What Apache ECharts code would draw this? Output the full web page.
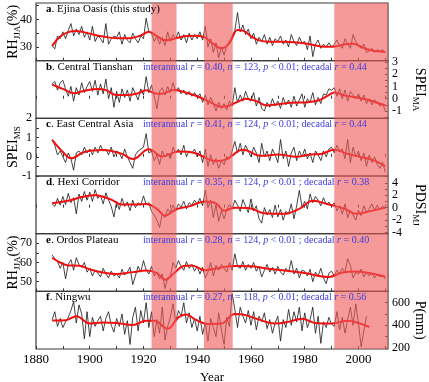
<!DOCTYPE html>
<html><head><meta charset="utf-8">
<script src="https://cdn.jsdelivr.net/npm/echarts@6/dist/echarts.min.js"></script>
<style>html,body{margin:0;padding:0;background:#fff}#c{width:429px;height:382px}</style>
</head><body><div id="c"></div>
<script>
const startYear = 1886;
// a. Ejina Oasis RH_JJA (%)
const blackA = [30.5,29.3,34,33,
35.5,33,36,38.5,34,36.5,34.5,37.5,33.5,35.5,
32.5,37.5,32,34,33,31.5,38.5,31,33,34,
33.5,35.5,31,34.5,32.5,31.5,35,33,31.5,34,
33,40.5,35.5,35,32,34,31,33.5,30.5,35.5,
32,34.5,33,35.5,32.5,34.5,31.5,35,32.5,34.5,
33,35.5,32.5,37.5,30,33,28,31.5,26,30,
27,30.5,32,34,36,42.5,35.5,38,34.5,36.5,
33,35,31,33.5,32,34.5,31,33.5,30.5,33,
32,34,31,32.5,30,34.5,32,30.5,33.5,31.5,
32,29,34,26.5,31,32.5,29.5,31,30,31.5,
30,31,32.5,30.5,29.5,33,31,29.5,34.5,32,
30.5,29.5,31,28,28.5,29.5,28,29,28.5,29,28];
const redA = [[1886,30.4],[1889,33.8],[1892,35.4],[1895,35.8],[1898,35.3],[1901,34.6],[1905,33.8],[1910,33.2],[1915,33.2],[1919,34.2],[1922,35.5],[1925,33.9],[1928,32.4],[1932,33.2],[1936,34.0],[1940,34.1],[1943,33.4],[1946,31.1],[1949,29.5],[1952,31.4],[1955,36.2],[1957,36.0],[1960,33.9],[1963,32.4],[1967,31.9],[1972,31.9],[1977,31.6],[1982,31.0],[1986,30.2],[1990,30.1],[1995,31.0],[1998,31.2],[2002,29.6],[2006,28.5],[2010,28.2]];
// b. Central Tianshan SPEI_MA
const blackB = [1.2,1.4,0.7,1.3,
1.5,0.8,0.2,1.0,-0.2,0.9,0.3,1.3,0.5,1.0,
1.4,0.6,1.5,0.3,1.2,0.4,1.6,0.0,0.9,-0.7,
0.6,-0.3,0.8,0.1,0.7,-0.2,0.9,0.4,-0.1,0.8,
0.3,1.8,0.5,1.1,0.2,-0.8,0.6,0.9,0.3,1.0,
0.5,1.3,0.6,0.9,0.4,0.7,0.3,0.6,0.2,0.5,
0.1,0.4,-0.3,0.3,-0.5,0.1,-0.4,-1.0,-0.3,-0.8,
-0.4,-0.9,-0.2,-0.6,0.9,-0.3,0.3,-0.2,0.6,0.0,
-0.2,0.5,-0.6,0.1,-0.8,-1.0,-0.3,-0.7,0.0,-0.6,
-0.2,-0.8,0.1,-0.5,-0.1,-0.7,0.2,-0.6,-0.1,0.4,
-0.7,0.0,-0.3,0.5,-0.5,0.1,-0.4,0.4,0.3,0.8,
0.7,0.9,0.2,0.8,0.0,0.7,-0.2,0.6,0.3,0.0,
0.4,-0.2,0.3,-0.4,0.0,-0.5,-0.1,-0.3,-0.6,-0.4,-1.0];
const redB = [[1886,1.15],[1890,0.8],[1894,0.45],[1898,0.65],[1903,0.8],[1906,0.7],[1910,0.3],[1914,0.3],[1918,0.45],[1921,0.68],[1924,0.45],[1927,0.4],[1931,0.7],[1935,0.55],[1940,0.2],[1945,-0.3],[1949,-0.65],[1952,-0.55],[1956,-0.15],[1958,0.0],[1962,-0.2],[1966,-0.55],[1970,-0.45],[1975,-0.33],[1980,-0.3],[1985,-0.15],[1989,0.3],[1991,0.5],[1995,0.25],[2000,0.08],[2005,-0.18],[2010,-0.55]];
// c. East Central Asia SPEI_MS
const blackC = [0.9,0.6,0.1,0.3,
0.0,-0.3,0.2,-0.1,-0.7,0.2,0.3,0.1,0.5,0.2,
0.4,0.1,0.5,0.2,0.6,0.3,0.4,0.1,0.5,0.0,
0.3,0.2,-0.1,0.4,0.0,-0.3,-0.6,0.1,0.3,0.4,
0.5,1.2,0.2,0.3,-0.2,0.1,-0.4,0.3,0.0,0.2,
-0.1,0.5,0.2,0.4,0.1,0.6,0.0,0.3,0.2,0.4,
0.0,0.3,-0.3,0.4,-0.5,0.1,-0.4,-0.1,-0.6,-0.2,
-0.4,0.0,-0.1,0.3,0.8,0.2,0.7,0.1,0.6,0.3,
0.0,0.5,0.2,-0.3,0.7,0.0,0.3,-0.2,0.4,0.1,
-0.3,0.9,-0.1,0.3,-0.5,0.2,0.5,-0.2,0.3,0.0,
0.4,-0.1,0.2,-0.3,0.3,0.1,-0.2,0.3,0.0,0.4,
0.5,0.2,0.6,0.3,0.4,-0.1,0.9,-0.3,0.5,0.0,
0.3,-0.2,0.2,-0.5,0.1,-0.3,0.0,-0.4,-0.6,-0.3,-0.8];
const redC = [[1886,0.88],[1890,0.25],[1893,-0.08],[1898,0.25],[1905,0.35],[1912,0.15],[1916,-0.12],[1922,0.39],[1927,0.02],[1933,0.27],[1939,0.2],[1947,-0.22],[1951,-0.12],[1957,0.36],[1964,0.05],[1970,0.12],[1977,0.0],[1982,0.12],[1986,0.15],[1991,0.37],[1996,0.15],[2002,-0.05],[2006,-0.2],[2010,-0.5]];
// d. Hexi Corridor PDSI_MJ
const blackD = [0.6,0.2,1.5,0.4,
1.8,0.5,2.3,0.8,1.6,-1.0,2.2,1.0,2.6,1.2,
2.5,1.0,2.9,1.5,2.0,0.6,2.4,1.2,0.2,-1.5,
1.0,-0.3,1.5,0.2,0.9,-0.5,1.2,0.0,0.8,0.4,
1.9,0.5,0.8,-0.6,-1.2,-2.0,-3.2,-1.0,-1.6,-0.2,
-0.8,0.4,-0.5,0.6,0.1,1.0,-0.2,0.8,0.4,1.2,
0.6,1.5,0.3,2.8,0.0,1.2,-1.6,0.5,-2.2,-0.5,
-1.8,-0.3,0.5,-0.2,1.2,0.4,-0.6,1.3,0.2,-0.8,
1.4,-0.5,0.3,-1.8,-2.5,0.0,-1.2,-0.3,-1.6,0.4,
-1.5,-0.3,-2.0,-0.6,-1.0,0.6,-1.8,0.3,2.8,0.1,
1.0,-0.2,2.2,0.8,1.8,1.2,0.3,1.6,0.5,0.9,
0.2,0.8,-0.5,0.3,-1.0,0.6,-1.6,-0.5,-1.2,-2.0,
-0.4,-1.3,0.3,-0.8,-0.2,0.6,-0.5,0.4,-0.3,0.2,-0.1];
const redD = [[1886,0.7],[1892,1.1],[1897,1.7],[1902,2.0],[1908,1.3],[1912,0.5],[1917,0.5],[1921,0.6],[1925,-0.2],[1928,-1.3],[1932,-0.3],[1937,0.2],[1943,1.0],[1947,0.7],[1950,-0.5],[1954,0.0],[1959,-0.05],[1965,-0.9],[1972,-1.0],[1978,-0.2],[1983,1.1],[1989,0.5],[1995,-0.2],[1999,-1.0],[2004,-0.6],[2010,0.0]];
// e. Ordos Plateau RH_JJA (%)
const blackE = [64,62,60.5,57,
60,51.5,59,61.5,56,62.5,59,57.5,60,55,
57,53,56,54.5,52.5,57,54,52,55.5,53,
54,52,56.5,53.5,55,57.5,48.5,53,58,55,
61,56,54,58,53,55,51.5,54,46.5,52,
53,60,57,61,58,56,60.5,57,59,55.5,
58,54,57.5,52,55,60,53,58.5,56,59,
57,55,60,56,64.5,58,57,60.5,56,59,
57,60,55.5,58,52.5,56,59,55,57.5,54,
58,55,53.5,57,55,61,54,57,52,56,
55.5,53,56.5,50,55,53,57,52,49,54.5,
55.5,53,56,54,57,55,62,58.5,52,55,
54,56.5,52.5,55,53,54.5,52,54,52.5,53.5,51.5];
const redE = [[1886,62.5],[1889,60],[1892,58.5],[1896,58.3],[1900,56.5],[1905,54.8],[1910,54],[1916,55],[1921,55.8],[1925,54.5],[1928,51],[1931,54],[1935,58.2],[1938,58.5],[1943,56],[1948,57.2],[1954,58.2],[1960,58],[1967,56.6],[1974,55.6],[1980,54.5],[1989,52.5],[1994,54.8],[1999,55.3],[2004,54.5],[2010,52.6]];
// f. Ningwu P (mm)
const blackF = [450,520,390,460,
380,430,470,530,610,420,580,500,280,520,
300,470,390,440,480,350,460,520,400,340,
460,390,500,320,440,230,470,560,350,530,
420,600,380,520,300,450,330,560,270,390,
470,590,430,530,480,600,420,510,380,460,
350,480,320,420,260,460,380,300,510,360,
230,470,390,680,540,380,560,480,420,530,
400,520,360,480,430,510,370,450,330,420,
480,260,450,380,540,400,520,430,560,350,
510,380,450,560,330,480,240,430,380,470,
410,390,520,360,470,330,450,560,400,590,
420,210,350,480];
const redF = [[1886,443],[1891,445],[1895,480],[1900,416],[1905,425],[1910,420],[1916,402],[1921,440],[1924,440],[1929,370],[1933,470],[1936,495],[1939,455],[1944,412],[1949,415],[1954,500],[1957,495],[1962,458],[1969,415],[1974,430],[1979,458],[1984,420],[1990,415],[1996,440],[2000,420],[2004,385]];

const xTicks = [1880,1890,1900,1910,1920,1930,1940,1950,1960,1970,1980,1990,2000,2010];
const xLabels = [1880,1900,1920,1940,1960,1980,2000];
const shadeSpans = [[1923,1932.3],[1942.5,1953.2],[1991,2011]];

const letters = ['a','b','c','d','e','f'];
const sites = ['Ejina Oasis (this study)','Central Tianshan','East Central Asia','Hexi Corridor','Ordos Plateau','Ningwu'];
const statR1 = [null,'0.40','0.41','0.35','0.28','0.27'];
const statN = [null,'123','124','124','124','118'];
const statSep = [null,'; ','; ',' ; ',' ; ','; '];
const statR2 = [null,'0.44','0.44','0.38','0.40','0.56'];

const yTicksA = [25,30,35,40,45], yLabelsA = [30,40];
const yTicksB = [-1.5,-1,-0.5,0,0.5,1,1.5,2,2.5,3], yLabelsB = [-1,0,1,2,3];
const yTicksC = [-1,-0.5,0,0.5,1,1.5,2], yLabelsC = [-1,0,1,2];
const yTicksD = [-4,-3,-2,-1,0,1,2,3,4,5], yLabelsD = [-4,-2,0,2,4];
const yTicksE = [45,50,55,60,65,70,75], yLabelsE = [50,60,70];
const yTicksF = [200,300,400,500,600,700], yLabelsF = [200,400,600];

const FONT = '"Liberation Serif","Times New Roman",serif';
const blacks = [blackA,blackB,blackC,blackD,blackE,blackF];
const reds = [redA,redB,redC,redD,redE,redF];
const yconf = [
  {pos:'left', min:25, max:46, ticks:yTicksA, labels:yLabelsA, n1:'RH', sub:'JJA', n2:'(%)'},
  {pos:'right', min:-1.6, max:3.1, ticks:yTicksB, labels:yLabelsB, n1:'SPEI', sub:'MA', n2:''},
  {pos:'left', min:-1, max:2, ticks:yTicksC, labels:yLabelsC, n1:'SPEI', sub:'MS', n2:''},
  {pos:'right', min:-4.2, max:5.1, ticks:yTicksD, labels:yLabelsD, n1:'PDSI', sub:'MJ', n2:''},
  {pos:'left', min:45, max:75, ticks:yTicksE, labels:yLabelsE, n1:'RH', sub:'JJA', n2:'(%)'},
  {pos:'right', min:190, max:700, ticks:yTicksF, labels:yLabelsF, n1:'P(mm)', sub:'', n2:''}
];

const TOP = 3, PH = 57.67, LEFT = 36, RIGHT = 41;
const grids = [], xAxes = [], yAxes = [], series = [], graphics = [];
for (let i = 0; i < 6; i++) {
  const top = TOP + i * PH;
  grids.push({left: LEFT, right: RIGHT, top: top, height: PH, show: true, borderColor: '#3a3a3a', borderWidth: 1.2,
    backgroundColor: 'transparent', containLabel: false, outerBoundsMode: 'none'});
  const last = i === 5;
  xAxes.push({
    type: 'value', gridIndex: i, min: 1880, max: 2011,
    axisLine: {show: false},
    axisTick: {show: true, inside: true, length: 3, customValues: xTicks, lineStyle: {color: '#3a3a3a'}},
    axisLabel: {show: last, customValues: xLabels, formatter: v => String(v), margin: 4, color: '#000', fontFamily: FONT, fontSize: 13},
    splitLine: {show: false},
    name: last ? 'Year' : '', nameLocation: 'middle', nameGap: 22, nameMoveOverlap: false,
    nameTextStyle: {fontFamily: FONT, fontSize: 13, color: '#000'}
  });
  const c = yconf[i];
  const nm = c.sub ? '{m|' + c.n1 + '}{s|' + c.sub + '}' + (c.n2 ? '{m|' + c.n2 + '}' : '') : '{m|' + c.n1 + '}';
  yAxes.push({
    type: 'value', gridIndex: i, position: c.pos, min: c.min, max: c.max,
    axisLine: {show: false},
    axisTick: {show: true, inside: true, length: 3, customValues: c.ticks, lineStyle: {color: '#3a3a3a'}},
    axisLabel: {customValues: c.labels, formatter: v => String(v), margin: 4, color: '#000', fontFamily: FONT, fontSize: 12},
    splitLine: {show: false},
    name: nm, nameLocation: 'middle', nameGap: c.pos === 'left' ? 14 : 23, nameMoveOverlap: false,
    nameRotate: c.pos === 'left' ? 90 : -90,
    nameTextStyle: {fontFamily: FONT, color: '#000', rich: {
      m: {fontFamily: FONT, fontSize: 14, lineHeight: 18, color: '#000'},
      s: {fontFamily: FONT, fontSize: 9, lineHeight: 10, verticalAlign: 'bottom', color: '#000'}
    }}
  });
  series.push({
    type: 'line', xAxisIndex: i, yAxisIndex: i, showSymbol: false, silent: true, z: 2,
    data: blacks[i].map((v, k) => [startYear + k, v]),
    lineStyle: {color: '#151515', width: 0.8}
  });
  series.push({
    type: 'line', xAxisIndex: i, yAxisIndex: i, showSymbol: false, silent: true, z: 3, smooth: 0.4,
    data: reds[i],
    lineStyle: {color: '#f01010', width: 2}
  });
  series.push({
    type: 'line', xAxisIndex: i, yAxisIndex: i, showSymbol: false, silent: true, z: 5, data: [],
    markArea: {silent: true, z: 10, itemStyle: {color: 'rgba(240,90,90,0.62)'},
      data: shadeSpans.map(s => [{xAxis: s[0]}, {xAxis: s[1]}])}
  });
  const ty = top + 7.5;
  graphics.push({
    type: 'text', left: 46, top: ty - 7, z: 100,
    style: {text: '{b|' + letters[i] + '}{n|. ' + sites[i] + '}',
      rich: {b: {fontFamily: FONT, fontSize: 11, fontWeight: 'bold', fill: '#000'}, n: {fontFamily: FONT, fontSize: 11, fill: '#000'}}}
  });
  if (statR1[i]) {
    const st = {fontFamily: FONT, fontSize: 10, fill: '#3a3ae0'};
    const it = {fontFamily: FONT, fontSize: 10, fill: '#3a3ae0', fontStyle: 'italic'};
    graphics.push({
      type: 'text', left: 143, top: ty - 6, z: 100,
      style: {text: '{t|interannual }{i|r}{t| = ' + statR1[i] + ', }{i|n}{t| = ' + statN[i] + ', }{i|p}{t| < 0.01' + statSep[i] + 'decadal }{i|r}{t| = ' + statR2[i] + '}',
        rich: {t: st, i: it}}
    });
  }
}

const chart = echarts.init(document.getElementById('c'), null, {renderer: 'canvas'});
chart.setOption({
  animation: false,
  backgroundColor: '#fff',
  grid: grids, xAxis: xAxes, yAxis: yAxes, series: series, graphic: graphics
});
</script></body></html>
